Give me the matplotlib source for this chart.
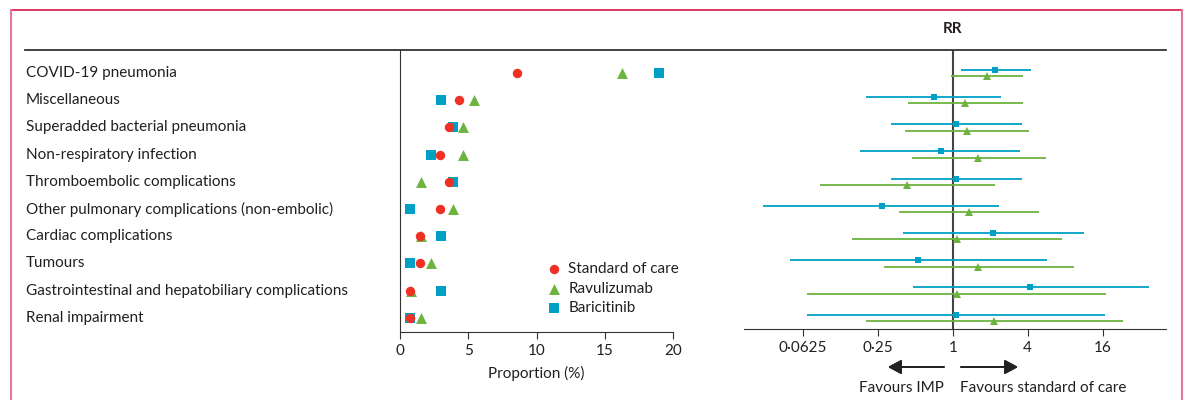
import matplotlib
matplotlib.use('Agg')
import matplotlib.pyplot as plt
from matplotlib.lines import Line2D
import numpy as np

plt.rcParams['font.family'] = ['Lato', 'DejaVu Sans']

categories = [
    'COVID-19 pneumonia',
    'Miscellaneous',
    'Superadded bacterial pneumonia',
    'Non-respiratory infection',
    'Thromboembolic complications',
    'Other pulmonary complications (non-embolic)',
    'Cardiac complications',
    'Tumours',
    'Gastrointestinal and hepatobiliary complications',
    'Renal impairment',
]

# proportion (%) of patients
soc_pct = [8.6, 4.3, 3.6, 2.9, 3.6, 2.9, 1.45, 1.45, 0.75, 0.75]
ravu_pct = [16.3, 5.4, 4.65, 4.65, 1.55, 3.9, 1.55, 2.3, 0.8, 1.55]
bari_pct = [19.0, 3.0, 3.85, 2.3, 3.85, 0.75, 3.0, 0.75, 3.0, 0.75]

# risk ratio vs standard of care
bari_rr = [2.2, 0.71, 1.06, 0.80, 1.06, 0.27, 2.11, 0.53, 4.2, 1.07]
bari_lo = [1.16, 0.20, 0.32, 0.18, 0.32, 0.030, 0.40, 0.049, 0.48, 0.067]
bari_hi = [4.23, 2.46, 3.58, 3.48, 3.58, 2.35, 11.3, 5.74, 37.5, 16.7]
ravu_rr = [1.89, 1.26, 1.29, 1.60, 0.43, 1.35, 1.08, 1.60, 1.08, 2.14]
ravu_lo = [0.97, 0.44, 0.41, 0.47, 0.086, 0.37, 0.155, 0.28, 0.068, 0.20]
ravu_hi = [3.66, 3.66, 4.11, 5.58, 2.17, 4.89, 7.5, 9.45, 16.9, 23.4]

rr_ticks = [0.0625, 0.25, 1, 4, 16]
rr_ticklabels = ['0·0625', '0·25', '1', '4', '16']
pct_ticks = [0, 5, 10, 15, 20]

RED = '#ee3124'
GREEN = '#6db33f'
BLUE = '#00a0c6'
TXT = '#231f20'

W, H = 1186, 400
fig = plt.figure(figsize=(W / 100, H / 100), dpi=100)


def fx(px):
    return px / W


def fy(py):
    return 1 - py / H


def box(x0, y0, x1, y1):
    return [fx(x0), fy(y1), fx(x1) - fx(x0), fy(y0) - fy(y1)]


# page frame
fig.add_artist(Line2D([fx(11), fx(1182)], [fy(10), fy(10)], color='#d4154a', lw=1.2))
fig.add_artist(Line2D([fx(11), fx(11)], [fy(10), fy(402)], color='#e07a9a', lw=1.5))
fig.add_artist(Line2D([fx(1182), fx(1182)], [fy(10), fy(402)], color='#e07a9a', lw=1.5))
fig.add_artist(Line2D([fx(25), fx(1166)], [fy(50), fy(50)], color='#333333', lw=1.3))

n = len(categories)
rows = np.arange(n)
row0, step = 73, 27.2

# dot plot
ax = fig.add_axes(box(400, 50, 673, 332))
ax.set_xlim(0, 20)
ax.set_ylim((332 - row0) / step, (50 - row0) / step)
ax.scatter(bari_pct, rows, marker='s', s=44, color=BLUE, label='Baricitinib', zorder=3, linewidths=0)
ax.scatter(ravu_pct, rows, marker='^', s=62, color=GREEN, label='Ravulizumab', zorder=4, linewidths=0)
ax.scatter(soc_pct, rows, marker='o', s=46, color=RED, label='Standard of care', zorder=5, linewidths=0)
for s in ['top', 'right']:
    ax.spines[s].set_visible(False)
ax.spines['left'].set_color('#333333')
ax.spines['bottom'].set_color('#333333')
ax.set_yticks([])
ax.set_xticks(pct_ticks)
ax.tick_params(axis='x', labelsize=11, colors='#333333', length=5, labelcolor=TXT)
ax.set_xlabel('Proportion (%)', fontsize=11, color=TXT, labelpad=6)
h, l = ax.get_legend_handles_labels()
ax.legend(h[::-1], l[::-1], loc='upper left', bbox_to_anchor=(0.49, 0.274), frameon=False,
          fontsize=11, handletextpad=0.15, handlelength=1.6, labelspacing=0.35, borderpad=0,
          labelcolor=TXT)

for i, c in enumerate(categories):
    fig.text(fx(26), fy(row0 + step * i), c, ha='left', va='center', fontsize=11, color=TXT)

# forest plot
fa = fig.add_axes(box(744, 50, 1166, 329))
fa.set_xscale('log', base=2)
fa.set_xlim(2 ** -5.57, 2 ** 5.69)
fa.set_ylim((329 - row0) / step, (50 - row0) / step)
off = 0.12
fa.hlines(rows - off, bari_lo, bari_hi, color=BLUE, lw=1.3)
fa.plot(bari_rr, rows - off, 's', color=BLUE, ms=5, mew=0)
fa.hlines(rows + off, ravu_lo, ravu_hi, color=GREEN, lw=1.3)
fa.plot(ravu_rr, rows + off, '^', color=GREEN, ms=5.5, mew=0)
fa.axvline(1, color='#444444', lw=1.5, zorder=0)
for s in ['top', 'right', 'left']:
    fa.spines[s].set_visible(False)
fa.spines['bottom'].set_color('#333333')
fa.set_yticks([])
fa.set_xticks(rr_ticks)
fa.set_xticklabels(rr_ticklabels)
fa.minorticks_off()
fa.tick_params(axis='x', labelsize=11, colors='#333333', length=5, labelcolor=TXT)

fig.text(fx(953), fy(29), 'RR', ha='center', va='center', fontsize=11, fontweight='bold', color=TXT)

# direction arrows
arrow_style = dict(arrowstyle='-|>,head_length=0.5,head_width=0.27',
                   color='#222222', lw=1.3, mutation_scale=16, shrinkA=0, shrinkB=0)
fig.add_artist(plt.annotate('', xy=(fx(888), fy(367)), xytext=(fx(944), fy(367)),
                            xycoords='figure fraction', arrowprops=arrow_style))
fig.add_artist(plt.annotate('', xy=(fx(1018), fy(367)), xytext=(fx(961), fy(367)),
                            xycoords='figure fraction', arrowprops=arrow_style))
fig.text(fx(944), fy(388), 'Favours IMP', ha='right', va='center', fontsize=11, color=TXT)
fig.text(fx(960), fy(388), 'Favours standard of care', ha='left', va='center', fontsize=11, color=TXT)

fig.savefig('out.png', dpi=100)
